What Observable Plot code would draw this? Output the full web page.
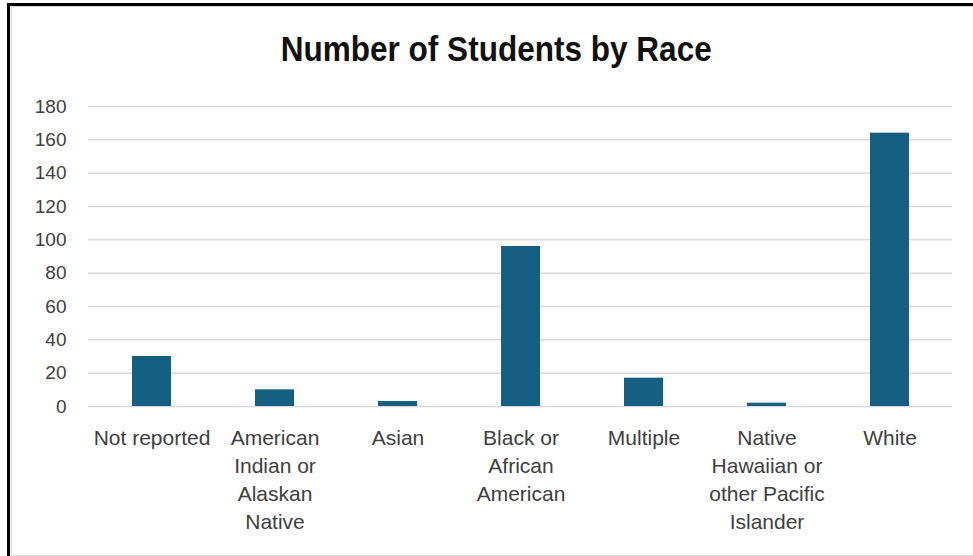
<!DOCTYPE html>
<html>
<head>
<meta charset="utf-8">
<script src="https://cdn.jsdelivr.net/npm/d3@7"></script>
<script src="https://cdn.jsdelivr.net/npm/@observablehq/plot@0.6"></script>
<style>
  html, body { margin: 0; padding: 0; background: #fff; }
  body { width: 973px; height: 556px; position: relative; overflow: hidden; font-family: "Liberation Sans", Arial, sans-serif; }
  #frame { position: absolute; left: 7px; top: 3px; width: 1000px; height: 600px; border-top: 3px solid #000; border-left: 3px solid #000; box-sizing: border-box; }
  #inner { position: absolute; left: 11px; top: 6px; width: 1000px; height: 550px; border: 1px solid #d9d9d9; box-sizing: border-box; }
  #title { position: absolute; left: 0; top: 27px; width: 993px; text-align: center; font-family: "Liberation Sans", Arial, sans-serif; font-weight: bold; font-size: 35px; line-height: 44px; color: #111; white-space: nowrap; }
  #title span { display: inline-block; transform-origin: center center; }
  #chart { position: absolute; left: 0; top: 80px; }
</style>
</head>
<body>
<div id="frame"></div>
<div id="inner"></div>
<div id="title"><span>Number of Students by Race</span></div>
<div id="chart"></div>
<script>
const categories = [
  "Not reported",
  "American Indian or Alaskan Native",
  "Asian",
  "Black or African American",
  "Multiple",
  "Native Hawaiian or other Pacific Islander",
  "White"
];
const categoryLabels = [
  "Not reported",
  "American\nIndian or\nAlaskan\nNative",
  "Asian",
  "Black or\nAfrican\nAmerican",
  "Multiple",
  "Native\nHawaiian or\nother Pacific\nIslander",
  "White"
];
const studentCounts = [30, 10, 3, 96, 17, 2, 164];
const yTicks = [0, 20, 40, 60, 80, 100, 120, 140, 160, 180];

const data = categories.map((c, i) => ({category: c, count: studentCounts[i]}));
const labelOf = new Map(categories.map((c, i) => [c, categoryLabels[i]]));

const chart = Plot.plot({
  width: 973,
  height: 476,
  marginLeft: 88,
  marginRight: 21,
  marginTop: 26,
  marginBottom: 150,
  style: { background: "transparent", overflow: "visible" },
  x: { domain: categories, paddingInner: 0.686, paddingOuter: 0.343, label: null },
  y: { domain: [0, 180], label: null },
  marks: [
    Plot.ruleY(yTicks, { stroke: "#d9d9d9", strokeWidth: 1.5, strokeOpacity: 1 }),
    Plot.barY(data, { x: "category", y: "count", fill: "#156082" }),
    Plot.axisY({
      ticks: yTicks, tickSize: 0, tickPadding: 22, label: null,
      fontSize: 19, fill: "#404040", fontFamily: "Liberation Sans, Arial, sans-serif"
    }),
    Plot.axisX({
      tickSize: 0, tickPadding: 19, label: null, lineHeight: 1.33,
      tickFormat: (d) => labelOf.get(d),
      fontSize: 21, fill: "#404040", fontFamily: "Liberation Sans, Arial, sans-serif"
    })
  ]
});
document.getElementById("chart").appendChild(chart);

// fit title width to reference
const span = document.querySelector("#title span");
const w = span.getBoundingClientRect().width;
span.style.transform = `scaleX(${431 / w})`;
</script>
</body>
</html>
